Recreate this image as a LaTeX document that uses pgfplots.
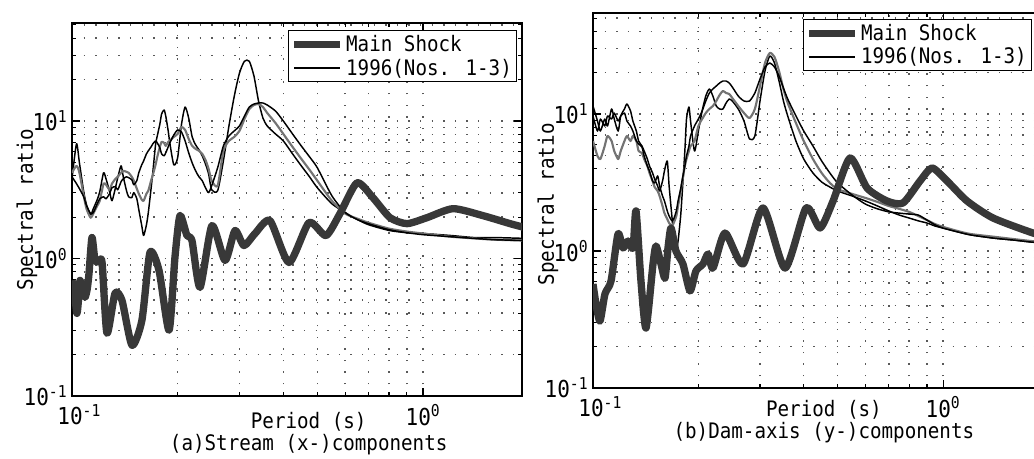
\documentclass[border=0pt]{standalone}
\usepackage{graphicx}
\usepackage{pgfplots}
\usepackage{pgfplotstable}
\pgfplotsset{compat=1.18}
\usepackage{fontspec}
\setmainfont{DejaVu Sans Mono}
\newcommand{\lbl}{\fontsize{16pt}{16.5pt}\selectfont}
\newcommand{\tkl}{\fontsize{17.5pt}{18pt}\selectfont}
\newcommand{\nt}[1]{\scalebox{0.9}[1]{#1}}

\tikzset{
  mainshock/.style={black!78, line width=5.5pt, line join=round},
  thinblack/.style={black, line width=1.1pt, line join=round},
  thingrey/.style={black!55, line width=1.6pt, line join=round},
}
\pgfplotsset{
  legend image code/.code={\draw[#1] (0pt,0pt) -- (34pt,0pt);},
}

% ---------------- left panel: Stream (x-) components ----------------
\pgfplotstableread{
T R
0.1000 0.693
0.1017 0.55
0.1033 0.399
0.1045 0.52
0.1054 0.693
0.1070 0.60
0.1089 0.522
0.1105 0.60
0.1118 0.778
0.1140 1.42
0.1163 0.967
0.1190 0.95
0.1218 0.935
0.1258 0.286
0.1326 0.558
0.1388 0.496
0.1482 0.234
0.1582 0.355
0.1668 1.105
0.1770 0.819
0.1890 0.301
0.1965 1.017
0.2031 2.05
0.2126 1.468
0.2197 1.35
0.2316 0.616
0.2505 1.734
0.2729 0.967
0.2913 1.596
0.3090 1.242
0.3322 1.518
0.3665 1.886
0.4152 0.935
0.4734 1.823
0.5292 1.468
0.5800 2.12
0.6486 3.55
0.7203 2.767
0.8054 1.982
0.9003 1.793
1.027 1.982
1.218 2.303
1.482 2.05
1.770 1.793
1.953 1.677
}\LMain

\pgfplotstableread{
T R
0.100 3.80
0.103 6.82
0.105 4.96
0.108 3.06
0.110 2.46
0.113 2.08
0.115 2.30
0.118 2.68
0.120 3.06
0.123 4.20
0.125 3.80
0.128 3.06
0.130 2.63
0.133 3.27
0.135 3.87
0.138 4.72
0.140 3.93
0.143 3.11
0.145 2.81
0.148 2.77
0.150 3.01
0.153 2.72
0.155 2.27
0.158 1.74
0.160 1.47
0.163 1.76
0.165 2.16
0.168 3.22
0.170 4.27
0.173 6.71
0.175 7.79
0.178 9.51
0.180 11.24
0.183 12.02
0.185 10.87
0.188 8.47
0.190 6.93
0.195 4.80
0.200 5.40
0.205 9.36
0.210 12.63
0.215 10.51
0.220 7.66
0.225 6.71
0.230 6.17
0.235 5.58
0.240 4.88
0.245 4.13
0.250 3.16
0.260 3.11
0.270 5.13
0.280 9.20
0.290 15.18
0.300 22.3
0.310 27.2
0.320 27.2
0.330 21.2
0.340 13.97
0.350 10.51
0.360 9.20
0.380 8.05
0.400 7.17
0.425 5.77
0.450 4.72
0.475 3.93
0.500 3.27
0.550 2.50
0.600 2.16
0.650 1.92
0.700 1.76
0.800 1.60
0.900 1.54
1.000 1.52
1.200 1.47
1.400 1.42
1.600 1.42
1.950 1.40
}\LOne

\pgfplotstableread{
T R
0.100 4.20
0.103 4.72
0.105 4.20
0.108 2.86
0.110 2.30
0.113 1.98
0.115 2.12
0.118 2.42
0.120 2.63
0.123 3.50
0.125 3.44
0.128 3.16
0.130 3.50
0.133 3.80
0.135 3.93
0.138 4.20
0.140 4.34
0.143 4.27
0.145 4.20
0.148 3.93
0.150 3.68
0.153 3.22
0.155 2.96
0.158 2.68
0.160 2.63
0.163 2.96
0.165 3.11
0.168 3.68
0.170 4.06
0.173 4.80
0.175 5.49
0.178 6.48
0.180 7.05
0.183 6.93
0.185 6.59
0.188 7.05
0.190 7.17
0.195 7.66
0.200 8.05
0.205 9.05
0.210 8.61
0.215 7.41
0.220 6.59
0.225 6.27
0.230 6.07
0.235 5.77
0.240 5.22
0.245 4.49
0.250 3.68
0.260 3.38
0.270 6.07
0.280 7.17
0.290 7.66
0.300 8.47
0.310 10.34
0.320 12.22
0.330 13.06
0.340 13.28
0.350 12.63
0.360 11.43
0.380 9.67
0.400 8.05
0.425 6.48
0.450 5.31
0.475 4.42
0.500 3.68
0.550 2.63
0.600 2.12
0.650 1.95
0.700 1.82
0.800 1.65
0.900 1.57
1.000 1.52
1.200 1.44
1.400 1.40
1.600 1.37
1.950 1.35
}\LTwo

\pgfplotstableread{
T R
0.100 3.93
0.103 3.50
0.105 3.22
0.108 2.81
0.110 2.42
0.113 2.12
0.115 2.16
0.118 2.50
0.120 2.72
0.123 2.81
0.125 2.72
0.128 2.96
0.130 3.27
0.133 3.33
0.135 3.16
0.138 3.62
0.140 3.80
0.143 3.93
0.145 3.87
0.148 3.74
0.150 3.44
0.153 3.68
0.155 4.20
0.158 4.80
0.160 5.13
0.163 5.77
0.165 6.07
0.168 6.48
0.170 6.82
0.173 7.17
0.175 6.93
0.178 6.38
0.180 5.77
0.183 5.58
0.185 5.87
0.188 6.48
0.190 6.93
0.195 7.92
0.200 8.61
0.205 8.33
0.210 7.17
0.215 5.87
0.220 4.96
0.225 4.34
0.230 3.93
0.235 3.68
0.240 3.27
0.245 3.01
0.250 3.38
0.260 4.57
0.270 6.59
0.280 7.79
0.290 8.47
0.300 9.20
0.310 10.87
0.320 12.63
0.330 13.28
0.340 13.51
0.350 13.51
0.360 13.06
0.380 11.82
0.400 10.0
0.425 8.05
0.450 6.59
0.475 5.49
0.500 4.57
0.550 2.86
0.600 2.16
0.650 1.92
0.700 1.79
0.800 1.62
0.900 1.54
1.000 1.49
1.200 1.44
1.400 1.40
1.600 1.37
1.950 1.35
}\LThree

% ---------------- right panel: Dam-axis (y-) components ----------------
\pgfplotstableread{
T R
0.1000 0.574
0.1020 0.410
0.1047 0.308
0.1082 0.486
0.1126 0.604
0.1179 1.331
0.1218 1.052
0.1259 1.183
0.1301 1.052
0.1327 1.959
0.1371 0.604
0.1417 0.274
0.1484 0.804
0.1514 1.088
0.1564 0.804
0.1606 0.635
0.1638 1.052
0.1671 1.472
0.1726 1.000
0.1807 0.804
0.1893 0.511
0.1969 0.715
0.2062 0.804
0.2131 0.951
0.2202 0.751
0.2383 1.353
0.2683 0.804
0.3060 2.060
0.3537 0.751
0.4061 2.060
0.4453 1.472
0.4851 2.317
0.5424 4.773
0.6066 2.884
0.6918 2.317
0.7685 2.241
0.8596 3.243
0.9303 4.036
1.027 3.243
1.171 2.317
1.390 1.741
1.807 1.353
2.022 1.265
}\RMain

\pgfplotstableread{
T R
0.100 11.44
0.103 8.89
0.105 7.51
0.108 9.19
0.110 8.17
0.113 10.88
0.115 9.19
0.118 7.51
0.120 9.67
0.123 10.88
0.125 11.83
0.128 10.52
0.130 8.89
0.133 7.51
0.135 6.35
0.138 5.84
0.140 5.37
0.143 4.69
0.145 4.17
0.148 3.71
0.150 3.35
0.153 2.98
0.155 2.74
0.158 3.24
0.160 3.84
0.163 4.54
0.165 2.98
0.168 1.80
0.170 1.29
0.173 1.05
0.175 1.18
0.178 1.80
0.180 2.74
0.183 5.37
0.185 9.19
0.188 11.25
0.190 8.89
0.195 5.37
0.200 7.51
0.205 10.52
0.210 13.53
0.215 15.22
0.220 13.53
0.225 11.44
0.230 10.88
0.235 10.88
0.240 12.03
0.245 12.86
0.250 12.44
0.260 10.88
0.270 8.89
0.280 6.57
0.290 6.91
0.300 12.44
0.310 20.60
0.320 26.51
0.330 23.56
0.340 17.41
0.350 12.44
0.360 9.67
0.380 6.35
0.400 4.69
0.425 3.71
0.450 3.19
0.475 2.93
0.500 2.74
0.550 2.52
0.600 2.32
0.650 2.13
0.700 1.96
0.750 1.83
0.800 1.74
0.850 1.66
0.900 1.60
0.950 1.52
1.000 1.47
1.100 1.38
1.200 1.31
1.400 1.24
1.600 1.20
1.800 1.16
2.000 1.14
}\ROne

\pgfplotstableread{
T R
0.100 6.35
0.103 4.94
0.105 4.69
0.108 5.84
0.110 6.91
0.113 6.35
0.115 5.37
0.118 4.69
0.120 5.37
0.123 6.35
0.125 6.91
0.128 6.35
0.130 6.91
0.133 6.35
0.135 5.37
0.138 5.19
0.140 4.69
0.143 4.17
0.145 3.71
0.148 3.24
0.150 2.93
0.153 2.74
0.155 2.52
0.158 2.13
0.160 1.89
0.163 1.71
0.165 1.60
0.168 1.52
0.170 1.60
0.173 1.80
0.175 2.13
0.178 2.74
0.180 3.24
0.183 4.17
0.185 4.69
0.188 5.37
0.190 5.84
0.195 6.35
0.200 8.17
0.205 9.19
0.210 10.17
0.215 10.88
0.220 11.44
0.225 12.44
0.230 13.76
0.235 14.72
0.240 14.23
0.245 14.00
0.250 13.08
0.260 11.44
0.270 10.17
0.280 9.35
0.290 10.88
0.300 16.01
0.310 23.56
0.320 27.88
0.330 26.07
0.340 20.60
0.350 15.22
0.360 12.03
0.380 8.60
0.400 6.35
0.425 4.69
0.450 3.71
0.475 3.14
0.500 2.83
0.550 2.61
0.600 2.44
0.650 2.28
0.700 2.13
0.750 2.03
0.800 1.93
0.850 1.80
0.900 1.68
0.950 1.57
1.000 1.50
1.100 1.40
1.200 1.33
1.400 1.27
1.600 1.22
1.800 1.18
2.000 1.16
}\RTwo

\pgfplotstableread{
T R
0.100 9.67
0.103 7.51
0.105 9.19
0.108 8.17
0.110 9.67
0.113 9.19
0.115 10.17
0.118 8.89
0.120 9.67
0.123 10.17
0.125 8.89
0.128 8.17
0.130 7.51
0.133 6.35
0.135 6.04
0.138 5.74
0.140 4.94
0.143 4.17
0.145 3.84
0.148 3.24
0.150 3.14
0.153 3.53
0.155 2.98
0.158 2.52
0.160 2.32
0.163 1.96
0.165 1.80
0.168 1.66
0.170 1.71
0.173 1.96
0.175 2.32
0.178 2.83
0.180 3.35
0.183 4.17
0.185 4.94
0.188 5.84
0.190 6.91
0.195 8.17
0.200 9.19
0.205 10.52
0.210 12.44
0.215 14.23
0.220 15.22
0.225 16.01
0.230 16.83
0.235 17.41
0.240 17.41
0.245 16.83
0.250 15.74
0.260 13.53
0.270 12.44
0.280 12.44
0.290 14.23
0.300 18.01
0.310 22.03
0.320 23.56
0.330 22.03
0.340 18.94
0.350 15.48
0.360 12.86
0.380 9.67
0.400 7.51
0.425 5.84
0.450 4.54
0.475 3.71
0.500 3.14
0.550 2.56
0.600 2.20
0.650 2.03
0.700 1.93
0.750 1.89
0.800 1.86
0.850 1.83
0.900 1.68
0.950 1.55
1.000 1.47
1.100 1.38
1.200 1.31
1.400 1.24
1.600 1.20
1.800 1.16
2.000 1.14
}\RThree

\begin{document}
\begin{tikzpicture}
\useasboundingbox (0,0) rectangle (775.5pt,344.25pt);

% ===== (a) Stream (x-) components =====
\begin{axis}[
  xmode=log, ymode=log, scale only axis,
  xmin=0.1, ymin=0.1,
  xtick={0.1,1},
  xticklabels={\nt{\hspace{12pt}10\textsuperscript{-1}},\nt{10\textsuperscript{0}}},
  ytick={0.1,1,10},
  yticklabels={\nt{10\textsuperscript{-1}},\nt{10\textsuperscript{0}},\nt{10\textsuperscript{1}}},
  minor xtick={0.2,0.3,0.4,0.5,0.6,0.7,0.8,0.9,2},
  minor ytick={0.2,0.3,0.4,0.5,0.6,0.7,0.8,0.9,2,3,4,5,6,7,8,9,20,30,40,50},
  grid=both,
  major grid style={black!65, line width=1.1pt, dash pattern=on 1.1pt off 7.6pt},
  minor grid style={black!65, line width=1.1pt, dash pattern=on 1.1pt off 7.6pt},
  tick align=inside, major tick length=6pt, minor tick length=3pt,
  tick style={black, line width=0.8pt},
  axis line style={black, line width=1pt},
  ticklabel style={font=\tkl},
  xticklabel style={yshift=-3pt},
  label style={font=\lbl},
  legend cell align=left,
  legend style={font=\lbl, draw=black, line width=0.8pt, inner sep=1.5pt, fill=white,
    at={(axis description cs:0.989,0.981)}, anchor=north east},
  at={(54pt,47.25pt)}, anchor=south west,
  width=337.5pt, height=279.75pt,
  xmax=1.915, ymax=51.6,
  xlabel={\nt{Period (s)}\\\nt{(a)Stream (x-)components}},
  xlabel style={at={(axis description cs:0.526,-0.102)}, anchor=center, align=center},
  ylabel={\nt{Spectral ratio}},
  ylabel style={at={(axis description cs:-0.1,0.5)}, anchor=center},
]
\addlegendimage{mainshock}
\addlegendentry{\nt{Main Shock}}
\addlegendimage{thinblack}
\addlegendentry{\nt{1996(Nos. 1-3)}}
\addplot[thinblack, smooth, tension=0.4, forget plot] table[x=T,y=R] {\LOne};
\addplot[thingrey, smooth, tension=0.4, forget plot] table[x=T,y=R] {\LTwo};
\addplot[thinblack, smooth, tension=0.4, forget plot] table[x=T,y=R] {\LThree};
\addplot[mainshock, smooth, tension=0.4, forget plot] table[x=T,y=R] {\LMain};
\end{axis}

% ===== (b) Dam-axis (y-) components =====
\begin{axis}[
  xmode=log, ymode=log, scale only axis,
  xmin=0.1, ymin=0.1,
  xtick={0.1,1},
  xticklabels={\nt{\hspace{12pt}10\textsuperscript{-1}},\nt{10\textsuperscript{0}}},
  ytick={0.1,1,10},
  yticklabels={\nt{10\textsuperscript{-1}},\nt{10\textsuperscript{0}},\nt{10\textsuperscript{1}}},
  minor xtick={0.2,0.3,0.4,0.5,0.6,0.7,0.8,0.9,2},
  minor ytick={0.2,0.3,0.4,0.5,0.6,0.7,0.8,0.9,2,3,4,5,6,7,8,9,20,30,40,50},
  grid=both,
  major grid style={black!65, line width=1.1pt, dash pattern=on 1.1pt off 7.6pt},
  minor grid style={black!65, line width=1.1pt, dash pattern=on 1.1pt off 7.6pt},
  tick align=inside, major tick length=6pt, minor tick length=3pt,
  tick style={black, line width=0.8pt},
  axis line style={black, line width=1pt},
  ticklabel style={font=\tkl},
  xticklabel style={yshift=-3pt},
  label style={font=\lbl},
  legend cell align=left,
  legend style={font=\lbl, draw=black, line width=0.8pt, inner sep=1.5pt, fill=white,
    at={(axis description cs:0.964,0.984)}, anchor=north east},
  at={(444.75pt,53.25pt)}, anchor=south west,
  width=341.55pt, height=281.25pt,
  xmax=2, ymax=54.6,
  xlabel={\nt{Period (s)}\\\nt{(b)Dam-axis (y-)components}},
  xlabel style={at={(axis description cs:0.507,-0.09)}, anchor=center, align=center},
  ylabel={\nt{Spectral ratio}},
  ylabel style={at={(axis description cs:-0.099,0.49)}, anchor=center},
]
\addlegendimage{mainshock}
\addlegendentry{\nt{Main Shock}}
\addlegendimage{thinblack}
\addlegendentry{\nt{1996(Nos. 1-3)}}
\addplot[thinblack, smooth, tension=0.4, forget plot] table[x=T,y=R] {\ROne};
\addplot[thingrey, smooth, tension=0.4, forget plot] table[x=T,y=R] {\RTwo};
\addplot[thinblack, smooth, tension=0.4, forget plot] table[x=T,y=R] {\RThree};
\addplot[mainshock, smooth, tension=0.4, forget plot] table[x=T,y=R] {\RMain};
\end{axis}
\end{tikzpicture}
\end{document}
